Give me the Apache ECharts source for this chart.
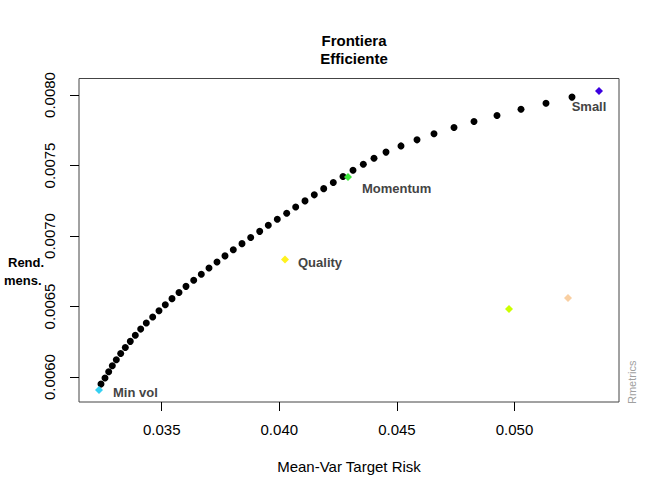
<!DOCTYPE html>
<html>
<head>
<meta charset="utf-8">
<script src="https://cdn.jsdelivr.net/npm/echarts@6/dist/echarts.min.js"></script>
<style>
html,body{margin:0;padding:0;background:#fff;}
#c{width:660px;height:500px;}
</style>
</head>
<body>
<div id="c"></div>
<script>
// Frontier points (risk, return)
const frontierRisk = [0.032419,0.032589,0.032747,0.032900,0.033070,0.033257,0.033452,0.033665,0.033878,0.034107,
0.034345,0.034617,0.034885,0.035153,0.035438,0.035736,0.036033,0.036361,0.036684,0.037011,
0.037351,0.037691,0.038044,0.038414,0.038784,0.039167,0.039532,0.039915,0.040315,0.040697,
0.041093,0.041488,0.041888,0.042296,0.042708,0.043133,0.043571,0.044026,0.044537,0.045174,
0.045855,0.046577,0.047428,0.048278,0.049256,0.050276,0.051339,0.052445];
const frontierReturn = [0.005950,0.005993,0.006037,0.006080,0.006123,0.006167,0.006210,0.006253,0.006296,0.006340,
0.006383,0.006426,0.006470,0.006513,0.006556,0.006600,0.006643,0.006686,0.006729,0.006773,
0.006816,0.006859,0.006903,0.006946,0.006989,0.007033,0.007076,0.007119,0.007162,0.007206,
0.007249,0.007292,0.007336,0.007379,0.007422,0.007466,0.007509,0.007552,0.007595,0.007639,
0.007682,0.007725,0.007769,0.007812,0.007855,0.007899,0.007942,0.007985];

// Single assets
const assetNames  = ["Min vol", "Quality", "Momentum", "Small", "", ""];
const assetRisk   = [0.032334, 0.040242, 0.042921, 0.053593, 0.049766, 0.052275];
const assetReturn = [0.005908, 0.006833, 0.007418, 0.008028, 0.006482, 0.006560];
const assetColors = ["#35d0f2", "#fff21e", "#3ce63c", "#3c00e0", "#ccff00", "#f9cfa2"];

const xTicks = [0.035, 0.040, 0.045, 0.050];
const yTicks = [0.0060, 0.0065, 0.0070, 0.0075, 0.0080];

const labelPlacement = [
  {position: 'right', distance: 10, offset: [0, 2]},
  {position: 'right', distance: 9, offset: [0, 2.5]},
  {position: 'right', distance: 10, offset: [0, 11]},
  {position: 'bottom', distance: 5, offset: [-10, 0]},
  null, null
];

const FONT = "'Liberation Sans', Arial, Helvetica, sans-serif";

const frontierData = frontierRisk.map((r, i) => [r, frontierReturn[i]]);
const assetData = assetRisk.map((r, i) => {
  const item = {
    name: assetNames[i],
    value: [r, assetReturn[i]],
    itemStyle: {color: assetColors[i], opacity: 1}
  };
  const lp = labelPlacement[i];
  if (lp && assetNames[i]) {
    item.label = Object.assign({
      show: true,
      formatter: assetNames[i],
      fontFamily: FONT,
      fontWeight: 'bold',
      fontSize: 13,
      color: '#444444'
    }, lp);
  }
  return item;
});

const chart = echarts.init(document.getElementById('c'), null, {renderer: 'svg'});
chart.setOption({
  backgroundColor: '#ffffff',
  animation: false,
  title: {
    text: 'Frontiera\nEfficiente',
    left: 349,
    top: 26,
    textAlign: 'center',
    textStyle: {fontFamily: FONT, fontWeight: 'bold', fontSize: 15, lineHeight: 18, color: '#000'}
  },
  grid: {
    left: 79, right: 41, top: 78.5, bottom: 98,
    containLabel: false,
    outerBoundsMode: 'none',
    show: true,
    borderColor: '#444',
    borderWidth: 1,
    backgroundColor: 'transparent'
  },
  xAxis: {
    type: 'value',
    min: 0.031484,
    max: 0.054443,
    name: 'Mean-Var Target Risk',
    nameLocation: 'middle',
    nameGap: 57,
    nameTextStyle: {fontFamily: FONT, fontSize: 15, color: '#000'},
    axisLine: {show: false},
    splitLine: {show: false},
    axisTick: {show: true, inside: false, length: 9, customValues: xTicks, lineStyle: {color: '#000'}},
    axisLabel: {show: true, customValues: xTicks, margin: 20, fontFamily: FONT, fontSize: 15, color: '#000',
      formatter: v => v.toFixed(3)}
  },
  yAxis: {
    type: 'value',
    min: 0.005823,
    max: 0.008117,
    axisLine: {show: false},
    splitLine: {show: false},
    axisTick: {show: true, inside: false, length: 9, customValues: yTicks, lineStyle: {color: '#000'}},
    axisLabel: {show: true, customValues: yTicks, rotate: 90, margin: 22, fontFamily: FONT, fontSize: 15, color: '#000',
      formatter: v => v.toFixed(4)}
  },
  graphic: [
    {type: 'text', left: 8, top: 256, style: {text: 'Rend.', font: 'bold 13px ' + FONT, fill: '#000'}},
    {type: 'text', left: 4, top: 274, style: {text: 'mens.', font: 'bold 13px ' + FONT, fill: '#000'}},
    {type: 'text', x: 626, y: 404, rotation: Math.PI / 2,
      style: {text: 'Rmetrics', font: '11px ' + FONT, fill: '#a0a0a0', align: 'left', verticalAlign: 'top'}}
  ],
  series: [
    {
      type: 'scatter',
      name: 'frontier',
      data: frontierData,
      symbol: 'circle',
      symbolSize: 7,
      itemStyle: {color: '#000', opacity: 1},
      silent: true
    },
    {
      type: 'scatter',
      name: 'assets',
      data: assetData,
      symbol: 'diamond',
      symbolSize: 8,
      silent: true,
      z: 3
    }
  ]
});
</script>
</body>
</html>
